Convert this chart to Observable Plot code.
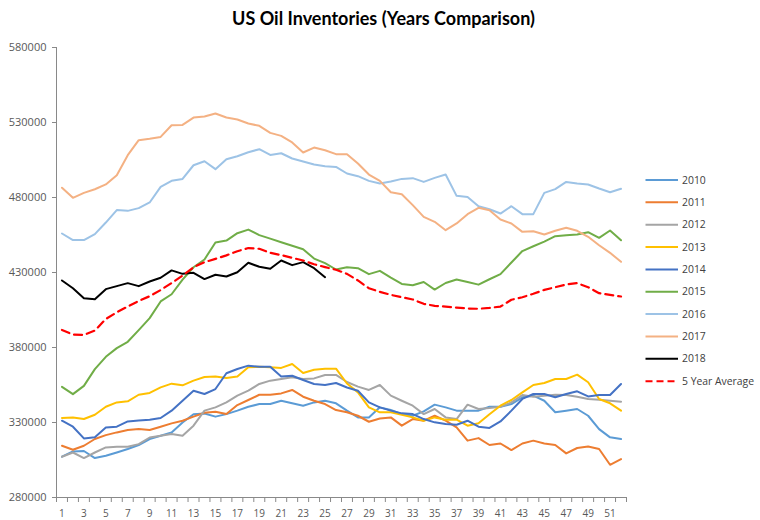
<!DOCTYPE html>
<html>
<head>
<meta charset="utf-8">
<script src="https://cdn.jsdelivr.net/npm/d3@7"></script>
<script src="https://cdn.jsdelivr.net/npm/@observablehq/plot@0.6"></script>
<style>
  body { margin: 0; background: #fff; }
  #wrap { position: relative; width: 760px; height: 520px; overflow: hidden; }
  #title { position: absolute; left: 0; top: 8px; width: 767px; text-align: center;
           font-family: Lato, "Open Sans", sans-serif; font-weight: bold; font-size: 18px; line-height: 20px; color: #000; }
</style>
</head>
<body>
<div id="wrap"><div id="title">US Oil Inventories (Years Comparison)</div></div>
<script>
const weeks = d3.range(1, 53);
const weekLabels = d3.range(1, 53, 2);
const yTicks = [280000, 330000, 380000, 430000, 480000, 530000, 580000];

const seriesNames = ["2010", "2011", "2012", "2013", "2014", "2015", "2016", "2017", "2018", "5 Year Average"];
const seriesColors = ["#5B9BD5", "#ED7D31", "#A5A5A5", "#FFC000", "#4472C4", "#70AD47", "#9DC3E6", "#F4B183", "#000000", "#FF0000"];

const v2010 = [307200,310700,311000,306300,307800,310000,312300,315000,319000,321200,323400,330000,335500,336000,333900,335600,337900,340500,342300,342300,344500,342800,341200,343400,344500,342800,337900,333400,333400,340100,338300,335600,334500,337400,341900,340100,337900,337900,337900,340500,340500,342300,346800,347900,344500,336800,337900,339000,334500,325600,320100,319000];
const v2011 = [314500,311800,314500,319000,321600,323400,325000,325600,325000,327200,329400,331200,333900,336500,337200,335600,341600,345000,348500,348500,349400,351700,347200,344500,342300,338300,336800,334500,330500,332700,333400,327900,332300,331200,334500,331200,326800,317900,319600,315000,316000,311600,316000,317900,316000,315000,309400,313000,314000,312300,301800,305600];
const v2012 = [307200,310000,306300,310000,313400,313800,313800,315600,320000,321200,322300,321200,327900,337900,340100,343400,347900,351200,355700,357900,359000,360100,359000,359400,361700,361700,357000,353900,351700,355000,347900,344500,341200,335600,339000,333400,332300,341900,339000,339600,340500,343400,348300,347200,347900,348500,348300,347200,345700,345200,344500,343900];
const v2013 = [333000,333400,332300,335200,340500,343400,344100,348500,349700,353400,355900,354800,357900,360300,360600,359700,360600,366800,367200,366800,366400,369000,363000,365200,365900,365900,356000,350100,340100,336800,336800,335200,333400,331200,333400,331900,331900,327900,329500,335500,341200,345000,350100,355000,356300,359000,359000,361900,356800,345700,342800,337900];
const v2014 = [331200,327200,319400,320100,326700,327200,330700,331400,331900,333000,337900,344500,351200,349000,352300,362800,365700,367900,367200,367200,360600,361200,358300,355700,355000,356300,353300,351200,343400,340100,337900,336100,335600,332300,330100,329000,328500,331200,327200,326400,330700,337900,345700,349000,349000,346800,349000,350800,347400,348300,348300,355700];
const v2015 = [353800,348900,354400,365600,373800,379600,383800,391600,399600,410700,415500,425200,433500,438700,450000,451300,456200,458600,454900,452600,450200,447800,445500,439300,436200,432000,433500,432900,428900,431100,426600,422400,421500,423700,418600,423000,425300,423700,421900,425500,428900,436700,444300,447500,450600,454200,454900,455300,456900,453100,458000,451500];
const v2016 = [456000,451600,451600,455600,463300,471600,471100,472900,476700,487100,491100,492400,501500,504200,498900,505500,507500,510200,512200,508400,509500,506000,504000,502000,500900,500400,496000,494200,491100,489300,490700,492400,492900,490400,493100,495300,481100,480400,474200,472200,469300,474200,468900,468900,483100,485600,490400,489300,488700,486000,483500,485800];
const v2017 = [486500,479800,483100,485500,488700,494900,508200,518200,519100,520400,528200,528400,533300,534000,536000,533300,532000,529300,527800,523100,521100,516700,510000,513300,511500,508900,508900,502700,495300,491100,483500,482200,474900,467100,463800,458200,462700,468900,473100,471500,465300,462700,457100,457500,455300,457800,459800,457800,453800,448200,443100,437100];
const v2018 = [424700,419500,412900,412200,418900,420900,422900,420900,424000,426500,431400,429100,429800,425600,428500,427300,430200,436500,433800,432500,438000,434900,436900,432900,426900];
const vAvg = [391700,388600,388400,391300,399000,403500,407300,411000,414200,418300,423000,428000,433500,436900,439100,441400,444200,446300,445800,443100,441600,439800,438000,435500,433600,431800,429100,424700,419500,417100,415100,413500,412000,409100,407800,407300,406600,406000,405800,406400,407300,411800,413500,415800,418400,420200,422000,422900,420200,416200,415100,414000];

const seriesValues = [v2010, v2011, v2012, v2013, v2014, v2015, v2016, v2017, v2018, vAvg];

const rowsFor = vals => vals.map((v, i) => ({week: weeks[i], value: v}));

const lineMarks = seriesValues.map((vals, k) =>
  Plot.line(rowsFor(vals), {
    x: "week", y: "value",
    stroke: seriesColors[k],
    strokeWidth: k === 9 ? 2.2 : 2,
    strokeDasharray: k === 9 ? "8,5" : null,
    strokeLinejoin: "round"
  })
);

const axisGrey = "#898989";
const textGrey = "#595959";

const chart = Plot.plot({
  width: 760,
  height: 520,
  marginLeft: 56,
  marginRight: 134,
  marginTop: 47,
  marginBottom: 23,
  style: {fontFamily: "'Open Sans', sans-serif", background: "transparent"},
  x: {type: "linear", domain: [0.5, 52.5]},
  y: {domain: [280000, 580000]},
  marks: [
    Plot.axisY({ticks: yTicks, tickSize: 4, tickPadding: 6, tickFormat: d => String(d), label: null,
                stroke: axisGrey, fill: textGrey, fontSize: 11}),
    Plot.axisX({ticks: d3.range(0.5, 53, 1), tickSize: 5, tickFormat: () => "", label: null,
                stroke: axisGrey}),
    Plot.axisX({ticks: weekLabels, tickSize: 0, tickPadding: 12, tickFormat: d => String(d), label: null,
                fill: textGrey, fontSize: 10}),
    Plot.ruleX([0.5], {stroke: axisGrey}),
    Plot.ruleY([280000], {stroke: axisGrey}),
    ...lineMarks
  ]
});

document.getElementById("wrap").prepend(chart);

// legend
const svg = d3.select(chart);
const lg = svg.append("g").attr("font-family", "'Open Sans', sans-serif").attr("font-size", 10.4)
  .attr("fill", "#404040").attr("text-anchor", "start");
seriesNames.forEach((name, i) => {
  const cy = 180 + i * 22.35;
  lg.append("line").attr("x1", 645.5).attr("x2", 678).attr("y1", cy).attr("y2", cy)
    .attr("stroke", seriesColors[i]).attr("stroke-width", 2)
    .attr("stroke-dasharray", i === 9 ? "7,4" : null);
  lg.append("text").attr("x", 682).attr("y", cy).attr("dy", "0.35em").attr("text-anchor", "start").text(name);
});
</script>
</body>
</html>
